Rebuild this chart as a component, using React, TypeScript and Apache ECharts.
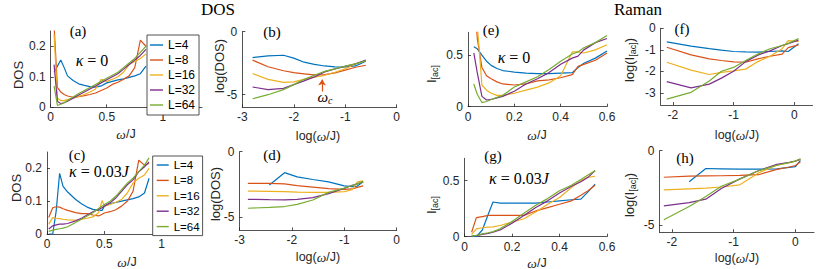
import React, { useEffect, useRef } from 'react';
import * as echarts from 'echarts';

const SIZES = ['L=4', 'L=8', 'L=16', 'L=32', 'L=64'];
const COLORS = ['#0072BD', '#D95319', '#EDB120', '#7E2F8E', '#77AC30'];

// ---- (a) DOS, kappa = 0 ----
const A_X = [0.03, 0.06, 0.09, 0.12, 0.15, 0.2, 0.25, 0.3, 0.35, 0.4, 0.45, 0.5, 0.55, 0.6, 0.65, 0.7, 0.75, 0.8, 0.85];
const A_L4 = [0.115, 0.135, 0.155, 0.13, 0.103, 0.088, 0.077, 0.072, 0.068, 0.066, 0.07, 0.08, 0.085, 0.09, 0.093, 0.098, 0.103, 0.11, 0.135];
const A_L8 = [0.27, 0.065, 0.05, 0.042, 0.037, 0.033, 0.035, 0.038, 0.042, 0.047, 0.055, 0.063, 0.075, 0.082, 0.092, 0.103, 0.13, 0.22, 0.2];
const A_L16 = [0.24, 0.03, 0.022, 0.022, 0.025, 0.03, 0.036, 0.042, 0.05, 0.06, 0.092, 0.085, 0.092, 0.1, 0.115, 0.14, 0.15, 0.16, 0.175];
const A_L32 = [0.14, 0.02, 0.012, 0.015, 0.02, 0.03, 0.04, 0.05, 0.06, 0.07, 0.08, 0.09, 0.1, 0.11, 0.125, 0.14, 0.155, 0.17, 0.19];
const A_L64 = [0.07, 0.006, 0.01, 0.015, 0.022, 0.034, 0.045, 0.055, 0.065, 0.075, 0.085, 0.095, 0.105, 0.115, 0.13, 0.145, 0.16, 0.18, 0.2];

// ---- (b) log(DOS), kappa = 0 ----
const B_X = [-2.8, -2.5, -2.2, -2.0, -1.8, -1.6, -1.4, -1.2, -1.0, -0.8, -0.6];
const B_L4 = [-2.05, -1.92, -1.87, -2.1, -2.42, -2.6, -2.72, -2.79, -2.8, -2.72, -2.35];
const B_L8 = [-2.26, -2.78, -3.1, -3.25, -3.34, -3.43, -3.4, -3.27, -3.05, -2.82, -2.66];
const B_L16 = [-3.32, -3.78, -4.02, -3.98, -3.78, -3.6, -3.46, -3.22, -2.95, -2.55, -2.3];
const B_L32 = [-4.39, -4.6, -4.5, -4.2, -3.9, -3.59, -3.19, -2.95, -2.75, -2.55, -2.26];
const B_L64 = [-5.32, -5.0, -4.6, -4.2, -3.78, -3.46, -3.15, -2.95, -2.73, -2.55, -2.31];
const OMEGA_C = -1.45;
const ARROW_Y = [-4.75, -3.8];

// ---- (c) DOS, kappa = 0.03J ----
const C_X = [0.015, 0.05, 0.08, 0.11, 0.14, 0.18, 0.25, 0.3, 0.35, 0.4, 0.45, 0.48, 0.5, 0.55, 0.6, 0.65, 0.7, 0.75, 0.8, 0.85, 0.89];
const C_L4 = [0.0, 0.0, 0.07, 0.185, 0.145, 0.128, 0.105, 0.092, 0.082, 0.075, 0.072, 0.072, 0.085, 0.093, 0.096, 0.1, 0.104, 0.108, 0.113, 0.125, 0.17];
const C_L8 = [0.05, 0.08, 0.083, 0.082, 0.077, 0.072, 0.065, 0.062, 0.062, 0.058, 0.055, 0.06, 0.064, 0.068, 0.074, 0.085, 0.1, 0.13, 0.225, 0.21, 0.215];
const C_L16 = [0.03, 0.05, 0.048, 0.047, 0.045, 0.043, 0.042, 0.045, 0.048, 0.052, 0.065, 0.102, 0.085, 0.09, 0.097, 0.105, 0.125, 0.155, 0.17, 0.18, 0.2];
const C_L32 = [0.015, 0.025, 0.028, 0.03, 0.03, 0.032, 0.04, 0.048, 0.058, 0.068, 0.075, 0.08, 0.085, 0.095, 0.11, 0.13, 0.15, 0.165, 0.19, 0.205, 0.22];
const C_L64 = [0.008, 0.012, 0.014, 0.016, 0.018, 0.022, 0.035, 0.045, 0.055, 0.065, 0.078, 0.085, 0.09, 0.1, 0.115, 0.135, 0.155, 0.17, 0.19, 0.21, 0.232];

// ---- (d) log(DOS), kappa = 0.03J ----
const D_X = [-2.84, -2.43, -2.14, -1.9, -1.6, -1.3, -1.0, -0.85, -0.75, -0.64];
const D_L4 = [null, -2.54, -1.6, -1.92, -2.12, -2.3, -2.6, -2.66, -2.62, -2.3];
const D_L8 = [-2.41, -2.41, -2.46, -2.58, -2.7, -2.82, -2.87, -2.84, -2.72, -2.6];
const D_L16 = [-3.0, -3.02, -3.05, -3.08, -3.1, -3.1, -3.04, -2.9, -2.3, -2.22];
const D_L32 = [-3.63, -3.66, -3.68, -3.64, -3.5, -3.2, -2.8, -2.56, -2.45, -2.28];
const D_L64 = [-4.31, -4.25, -4.18, -4.02, -3.68, -3.1, -2.78, -2.58, -2.45, -2.28];

// ---- (e) Raman I[ac], kappa = 0 ----
const E_X = [0.025, 0.04, 0.06, 0.08, 0.1, 0.125, 0.15, 0.2, 0.25, 0.3, 0.35, 0.4, 0.45, 0.475, 0.5, 0.55, 0.6];
const E_L4 = [0.58, 0.56, 0.5, 0.44, 0.4, 0.37, 0.35, 0.335, 0.325, 0.32, 0.32, 0.325, 0.33, 0.38, 0.42, 0.47, 0.54];
const E_L8 = [1.2, 0.66, 0.38, 0.3, 0.27, 0.24, 0.22, 0.21, 0.22, 0.25, 0.26, 0.28, 0.31, 0.39, 0.41, 0.45, 0.52];
const E_L16 = [1.5, 0.8, 0.21, 0.16, 0.13, 0.11, 0.11, 0.13, 0.16, 0.19, 0.23, 0.3, 0.53, 0.53, 0.52, 0.55, 0.6];
const E_L32 = [0.52, 0.33, 0.1, 0.065, 0.07, 0.085, 0.1, 0.15, 0.22, 0.27, 0.33, 0.41, 0.47, 0.49, 0.55, 0.62, 0.66];
const E_L64 = [0.22, 0.12, 0.04, 0.05, 0.07, 0.09, 0.11, 0.19, 0.24, 0.29, 0.36, 0.44, 0.51, 0.53, 0.57, 0.62, 0.69];

// ---- (f) log(I[ac]), kappa = 0 ----
const F_X = [-2.1, -1.7, -1.4, -1.2, -1.0, -0.8, -0.6, -0.4, -0.2, -0.1, 0.07];
const F_L4 = [-0.63, -0.83, -0.95, -1.02, -1.08, -1.1, -1.11, -1.08, -1.05, -1.08, -0.72];
const F_L8 = [-0.88, -1.24, -1.42, -1.5, -1.56, -1.58, -1.42, -1.3, -1.2, -0.9, -0.77];
const F_L16 = [-1.58, -1.95, -2.15, -2.05, -1.98, -1.9, -1.55, -1.3, -0.95, -0.57, -0.62];
const F_L32 = [-2.48, -2.77, -2.6, -2.32, -2.0, -1.55, -1.25, -1.05, -0.8, -0.72, -0.55];
const F_L64 = [-3.3, -2.98, -2.45, -2.0, -1.82, -1.5, -1.2, -0.95, -0.8, -0.7, -0.48];

// ---- (g) Raman I[ac], kappa = 0.03J ----
const G_X = [0.03, 0.05, 0.075, 0.1, 0.12, 0.15, 0.2, 0.25, 0.3, 0.35, 0.4, 0.45, 0.49, 0.52, 0.55];
const G_L4 = [0, 0, 0.06, 0.2, 0.31, 0.3, 0.3, 0.3, 0.3, 0.31, 0.32, 0.33, 0.335, 0.4, 0.47];
const G_L8 = [0.04, 0.17, 0.18, 0.19, 0.19, 0.19, 0.19, 0.19, 0.23, 0.26, 0.29, 0.32, 0.37, 0.41, 0.46];
const G_L16 = [0.02, 0.07, 0.08, 0.085, 0.087, 0.1, 0.13, 0.16, 0.22, 0.29, 0.35, 0.44, 0.5, 0.53, 0.54];
const G_L32 = [0.005, 0.01, 0.02, 0.03, 0.04, 0.06, 0.12, 0.19, 0.26, 0.32, 0.39, 0.45, 0.49, 0.53, 0.59];
const G_L64 = [0.005, 0.012, 0.025, 0.035, 0.045, 0.07, 0.135, 0.21, 0.28, 0.34, 0.41, 0.46, 0.51, 0.55, 0.59];

// ---- (h) log(I[ac]), kappa = 0.03J ----
const H_X = [-2.13, -1.72, -1.45, -1.2, -0.9, -0.6, -0.3, -0.1, 0.0, 0.08];
const H_L4 = [null, -2.09, -1.2, -1.22, -1.24, -1.25, -1.23, -1.12, -1.08, -0.65];
const H_L8 = [-1.79, -1.72, -1.7, -1.69, -1.67, -1.62, -1.26, -1.1, -1.0, -0.74];
const H_L16 = [-2.65, -2.58, -2.53, -2.45, -2.3, -1.5, -0.98, -0.8, -0.7, -0.58];
const H_L32 = [-3.72, -3.5, -3.27, -2.55, -1.9, -1.35, -0.92, -0.78, -0.7, -0.58];
const H_L64 = [-4.66, -3.77, -3.09, -2.4, -1.92, -1.35, -0.98, -0.8, -0.7, -0.54];

// ---- tick labels ----
const DOS_X_TICKS = [0, 0.5, 1];
const DOS_Y_TICKS = [0, 0.1, 0.2];
const LOGDOS_X_TICKS = [-3, -2, -1, 0];
const LOGDOS_Y_TICKS = [-5, 0];
const RAMAN_X_TICKS = [0, 0.2, 0.4, 0.6];
const RAMAN_Y_TICKS = [0, 0.5];
const LOGRAMAN_X_TICKS = [-2, -1, 0];
const LOGRAMAN_F_Y_TICKS = [-3, -2, -1, 0];
const LOGRAMAN_H_Y_TICKS = [-5, 0];

const SANS = 'Liberation Sans, Arial, sans-serif';
const SERIF = 'Liberation Serif, Times, serif';
const AXIS_COLOR = '#262626';

const PANELS = [
  { x: A_X, ys: [A_L4, A_L8, A_L16, A_L32, A_L64], xr: [0, 1.35], yr: [0, 0.25], xt: DOS_X_TICKS, yt: DOS_Y_TICKS,
    box: { left: 50.7, top: 31, width: 151.3, height: 76.3 } },
  { x: B_X, ys: [B_L4, B_L8, B_L16, B_L32, B_L64], xr: [-3, 0], yr: [-6, 0], xt: LOGDOS_X_TICKS, yt: LOGDOS_Y_TICKS,
    box: { left: 242.3, top: 31.7, width: 154.4, height: 75.6 } },
  { x: C_X, ys: [C_L4, C_L8, C_L16, C_L32, C_L64], xr: [0, 1.334], yr: [0, 0.25], xt: DOS_X_TICKS, yt: DOS_Y_TICKS,
    box: { left: 47, top: 152, width: 153, height: 82 } },
  { x: D_X, ys: [D_L4, D_L8, D_L16, D_L32, D_L64], xr: [-3, 0], yr: [-6, 0], xt: LOGDOS_X_TICKS, yt: LOGDOS_Y_TICKS,
    box: { left: 239.5, top: 151.7, width: 157.2, height: 78.7 } },
  { x: E_X, ys: [E_L4, E_L8, E_L16, E_L32, E_L64], xr: [0, 0.6], yr: [0, 0.72], xt: RAMAN_X_TICKS, yt: RAMAN_Y_TICKS,
    box: { left: 468, top: 32.3, width: 139, height: 74.4 } },
  { x: F_X, ys: [F_L4, F_L8, F_L16, F_L32, F_L64], xr: [-2.2, 0.3], yr: [-3.57, 0], xt: LOGRAMAN_X_TICKS, yt: LOGRAMAN_F_Y_TICKS,
    box: { left: 660.7, top: 28.3, width: 151.8, height: 76.7 } },
  { x: G_X, ys: [G_L4, G_L8, G_L16, G_L32, G_L64], xr: [0, 0.6], yr: [0, 0.7], xt: RAMAN_X_TICKS, yt: RAMAN_Y_TICKS,
    box: { left: 464.5, top: 158.3, width: 142.5, height: 78.4 } },
  { x: H_X, ys: [H_L4, H_L8, H_L16, H_L32, H_L64], xr: [-2.2, 0.3], yr: [-5.5, 0], xt: LOGRAMAN_X_TICKS, yt: LOGRAMAN_H_Y_TICKS,
    box: { left: 659.5, top: 150.7, width: 154.5, height: 81.5 } },
];

type Part = { t: string; size: number; family: string; italic?: boolean; dy?: number; fill?: string };

let measureCtx: CanvasRenderingContext2D | null = null;
function fontOf(p: Part) {
  return `${p.italic ? 'italic ' : ''}${p.size}px ${p.family}`;
}
function measure(p: Part) {
  if (!measureCtx) measureCtx = document.createElement('canvas').getContext('2d');
  if (!measureCtx) return p.t.length * p.size * 0.55;
  measureCtx.font = fontOf(p);
  return measureCtx.measureText(p.t).width;
}
// A label made of several differently styled pieces, laid out left to right and centred at (x, y).
function composite(x: number, y: number, parts: Part[], rotation = 0) {
  const widths = parts.map(measure);
  const total = widths.reduce((a, b) => a + b, 0);
  let cx = -total / 2;
  const children = parts.map((p, i) => {
    const el = {
      type: 'text', x: cx, y: p.dy || 0, silent: true,
      style: {
        text: p.t, fontSize: p.size, fontFamily: p.family, fontStyle: p.italic ? 'italic' : 'normal',
        fill: p.fill || '#000', align: 'left', verticalAlign: 'middle',
      },
    };
    cx += widths[i];
    return el;
  });
  return { type: 'group', x, y, rotation, silent: true, children };
}

function labelText(x: number, y: number, text: string, size: number, family: string) {
  return {
    type: 'text', x, y, silent: true,
    style: { text, fontSize: size, fontFamily: family, fill: '#000', align: 'center', verticalAlign: 'middle' },
  };
}

const om: Part = { t: 'ω', size: 13.5, family: SERIF, italic: true, fill: AXIS_COLOR };
function xLabel(x: number, y: number, log: boolean) {
  const s = (t: string): Part => ({ t, size: 12.5, family: SANS, fill: AXIS_COLOR });
  return composite(x, y, log ? [s('log('), om, s('/J)')] : [om, s('/J')]);
}
function yLabel(x: number, y: number, kind: 'DOS' | 'logDOS' | 'I' | 'logI') {
  const n = (t: string): Part => ({ t, size: 13, family: SANS, fill: AXIS_COLOR });
  const sub: Part = { t: '[ac]', size: 9, family: SANS, fill: AXIS_COLOR, dy: 4 };
  const parts =
    kind === 'DOS' ? [n('DOS')] :
    kind === 'logDOS' ? [n('log(DOS)')] :
    kind === 'I' ? [n('I'), sub] : [n('log(I'), sub, n(')')];
  return composite(x, y, parts, Math.PI / 2);
}
function kappa(x: number, y: number, withJ: boolean) {
  const it = (t: string): Part => ({ t, size: 16, family: SERIF, italic: true });
  const up = (t: string): Part => ({ t, size: 16, family: SERIF });
  return composite(x, y, withJ ? [it('κ'), up(' = 0.03'), it('J')] : [it('κ'), up(' = 0')]);
}

export default function App() {
  const ref = useRef<HTMLDivElement>(null);
  useEffect(() => {
    if (!ref.current) return;
    const chart = echarts.init(ref.current, undefined, { renderer: 'svg' });

    const series: any[] = [];
    PANELS.forEach((p, gi) => {
      p.ys.forEach((ys: any[], k: number) => {
        const data: number[][] = [];
        p.x.forEach((xv: number, i: number) => {
          if (ys[i] !== null && ys[i] !== undefined) data.push([xv, ys[i]]);
        });
        const s: any = {
          type: 'line', name: SIZES[k], xAxisIndex: gi, yAxisIndex: gi, data,
          symbol: 'none', showSymbol: false, clip: true,
          lineStyle: { width: 1.2, color: COLORS[k] }, itemStyle: { color: COLORS[k] },
          emphasis: { disabled: true }, animation: false,
        };
        if (gi === 1 && k === 1) {
          s.markLine = {
            silent: true, symbol: ['none', 'arrow'], symbolSize: 6, animation: false,
            label: { show: false },
            lineStyle: { color: COLORS[1], width: 1.2, type: 'solid' },
            data: [[{ coord: [OMEGA_C, ARROW_Y[0]] }, { coord: [OMEGA_C, ARROW_Y[1]] }]],
          };
        }
        series.push(s);
      });
    });

    const axisCommon = (min: number, max: number, ticks: number[], margin: number) => ({
      type: 'value', min, max,
      axisLine: { show: true, onZero: false, lineStyle: { color: AXIS_COLOR, width: 0.8 } },
      axisTick: { show: true, inside: true, length: 3, customValues: ticks, lineStyle: { color: AXIS_COLOR, width: 0.8 } },
      axisLabel: { show: true, customValues: ticks, margin, fontSize: 12, color: AXIS_COLOR, fontFamily: SANS },
      splitLine: { show: false },
    });

    const legendCommon = {
      data: SIZES, orient: 'vertical', backgroundColor: '#fff', borderColor: AXIS_COLOR, borderWidth: 0.8,
      icon: 'rect', itemHeight: 1.4, selectedMode: false,
    };

    const graphic: any[] = [
      labelText(218, 9, 'DOS', 17, SERIF),
      labelText(638, 9, 'Raman', 17, SERIF),
      labelText(78, 31, '(a)', 15, SERIF),
      labelText(272, 31.5, '(b)', 15, SERIF),
      labelText(77, 155, '(c)', 15, SERIF),
      labelText(272, 155, '(d)', 15, SERIF),
      labelText(491, 30, '(e)', 15, SERIF),
      labelText(682, 29, '(f)', 15, SERIF),
      labelText(493, 156, '(g)', 15, SERIF),
      labelText(685, 158, '(h)', 15, SERIF),
      kappa(92, 60, false),
      kappa(99, 171, true),
      kappa(514, 57, false),
      kappa(519, 178, true),
      xLabel(126, 134, false),
      xLabel(318, 136, true),
      xLabel(127, 262, false),
      xLabel(318, 257, true),
      xLabel(537, 135, false),
      xLabel(737, 135, true),
      xLabel(537, 263, false),
      xLabel(737, 258, true),
      yLabel(18, 75, 'DOS'),
      yLabel(219, 66, 'logDOS'),
      yLabel(16, 188, 'DOS'),
      yLabel(215, 194, 'logDOS'),
      yLabel(431, 74, 'I'),
      yLabel(629, 60, 'logI'),
      yLabel(431, 205, 'I'),
      yLabel(629, 195, 'logI'),
      composite(325, 97, [
        { t: 'ω', size: 15, family: SERIF, italic: true },
        { t: 'c', size: 10, family: SERIF, italic: true, dy: 3 },
      ]),
    ];

    chart.setOption({
      animation: false,
      backgroundColor: '#fff',
      grid: PANELS.map((p) => ({ ...p.box, containLabel: false })),
      xAxis: PANELS.map((p, i) => ({ gridIndex: i, ...axisCommon(p.xr[0], p.xr[1], p.xt, 4) })),
      yAxis: PANELS.map((p, i) => ({ gridIndex: i, ...axisCommon(p.yr[0], p.yr[1], p.yt, 5) })),
      legend: [
        { ...legendCommon, left: 147, top: 35, padding: [3, 4, 3, 3], itemWidth: 13, itemGap: 1,
          textStyle: { fontSize: 12, lineHeight: 14, fontFamily: SANS, color: '#000' } },
        { ...legendCommon, left: 152.7, top: 156, padding: [2, 3, 2, 4], itemWidth: 12, itemGap: 1.4,
          textStyle: { fontSize: 11.5, lineHeight: 14, fontFamily: SANS, color: '#000' } },
      ],
      series,
      graphic,
    });
    return () => chart.dispose();
  }, []);
  return <div ref={ref} style={{ position: 'absolute', left: 0, top: 0, width: 830, height: 269 }} />;
}
